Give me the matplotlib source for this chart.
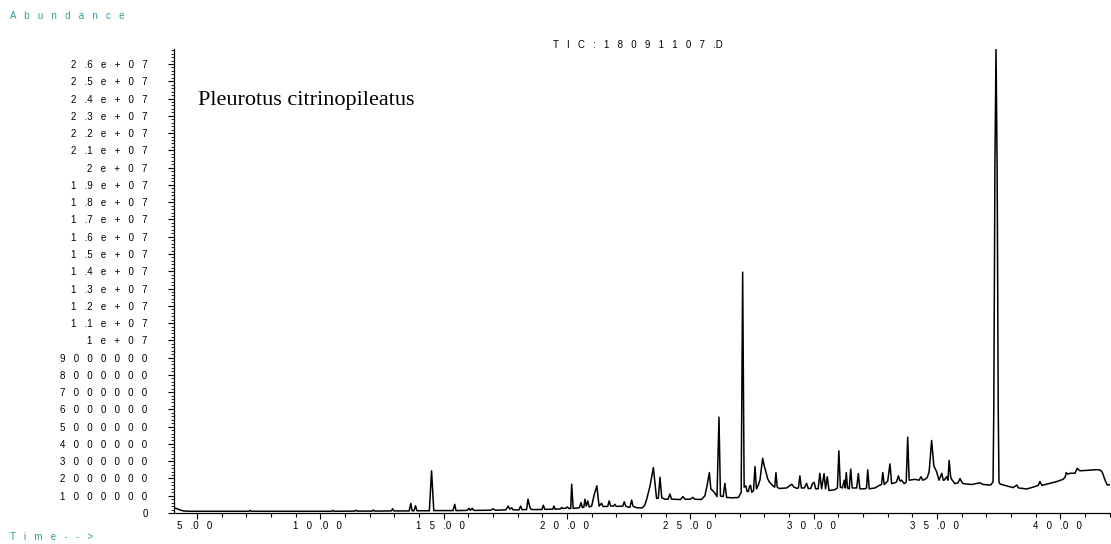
import matplotlib
matplotlib.use("Agg")
import matplotlib.pyplot as plt
from matplotlib.ticker import MultipleLocator, FixedLocator, FixedFormatter

# ---- data (time in min, abundance in millions) ----
time_min = [
    4.07, 4.15, 4.30, 4.45, 4.70, 6.00, 7.10, 7.15, 7.20, 9.50,
    10.45, 10.50, 10.55, 11.40, 11.45, 11.50, 12.10, 12.15, 12.20, 12.88,
    12.93, 12.98, 13.60, 13.67, 13.72, 13.80, 13.86, 13.92, 14.42, 14.51,
    14.60, 15.38, 15.45, 15.50, 15.95, 16.03, 16.08, 16.16, 16.22, 16.90,
    17.01, 17.10, 17.52, 17.62, 17.68, 17.76, 17.82, 18.05, 18.12, 18.18,
    18.36, 18.42, 18.50, 18.56, 18.98, 19.04, 19.10, 19.42, 19.47, 19.52,
    19.74, 19.78, 19.84, 19.96, 20.01, 20.08, 20.15, 20.19, 20.25, 20.50,
    20.57, 20.62, 20.68, 20.73, 20.78, 20.84, 20.90, 21.00, 21.10, 21.21,
    21.30, 21.40, 21.46, 21.65, 21.71, 21.77, 21.88, 21.94, 22.00, 22.26,
    22.32, 22.38, 22.45, 22.55, 22.62, 22.68, 22.85, 23.05, 23.15, 23.23,
    23.36, 23.50, 23.58, 23.63, 23.70, 23.77, 23.84, 23.95, 24.10, 24.17,
    24.24, 24.60, 24.70, 24.78, 25.00, 25.10, 25.18, 25.45, 25.59, 25.68,
    25.77, 25.83, 25.90, 26.00, 26.08, 26.16, 26.22, 26.33, 26.40, 26.47,
    26.70, 26.95, 27.06, 27.12, 27.18, 27.25, 27.30, 27.35, 27.40, 27.44,
    27.49, 27.56, 27.62, 27.68, 27.75, 27.82, 27.93, 28.00, 28.06, 28.13,
    28.20, 28.30, 28.36, 28.42, 28.47, 28.52, 28.60, 28.90, 29.00, 29.11,
    29.20, 29.31, 29.38, 29.44, 29.50, 29.62, 29.71, 29.78, 29.88, 29.95,
    30.02, 30.08, 30.18, 30.25, 30.32, 30.42, 30.48, 30.55, 30.62, 30.86,
    30.96, 31.02, 31.08, 31.16, 31.24, 31.28, 31.32, 31.37, 31.44, 31.50,
    31.56, 31.74, 31.81, 31.87, 32.08, 32.14, 32.19, 32.25, 32.48, 32.60,
    32.69, 32.75, 32.80, 32.86, 33.00, 33.09, 33.16, 33.29, 33.36, 33.43,
    33.50, 33.56, 33.67, 33.75, 33.81, 33.87, 34.10, 34.27, 34.35, 34.42,
    34.51, 34.60, 34.68, 34.78, 34.87, 34.98, 35.08, 35.19, 35.25, 35.29,
    35.39, 35.44, 35.49, 35.55, 35.59, 35.72, 35.85, 35.93, 36.00, 36.06,
    36.40, 36.74, 36.87, 37.17, 37.27, 37.30, 37.345, 37.39, 37.435, 37.48,
    37.51, 37.55, 37.82, 38.09, 38.23, 38.30, 38.43, 38.63, 38.90, 39.10,
    39.17, 39.25, 39.58, 39.85, 40.11, 40.20, 40.23, 40.30, 40.39, 40.59,
    40.68, 40.78, 40.86, 41.20, 41.47, 41.62, 41.70, 41.81, 41.90, 42.05,
]
abundance_m = [
    0.30, 0.27, 0.18, 0.12, 0.10, 0.10, 0.10, 0.15, 0.10, 0.10,
    0.10, 0.15, 0.10, 0.11, 0.16, 0.11, 0.11, 0.17, 0.11, 0.12,
    0.25, 0.12, 0.12, 0.55, 0.13, 0.13, 0.42, 0.13, 0.13, 2.44,
    0.14, 0.14, 0.50, 0.14, 0.15, 0.27, 0.16, 0.27, 0.15, 0.16,
    0.24, 0.16, 0.18, 0.40, 0.22, 0.30, 0.18, 0.18, 0.40, 0.19,
    0.20, 0.80, 0.30, 0.20, 0.20, 0.45, 0.21, 0.22, 0.40, 0.22,
    0.24, 0.32, 0.26, 0.28, 0.35, 0.26, 0.26, 1.67, 0.27, 0.30,
    0.60, 0.32, 0.33, 0.80, 0.40, 0.70, 0.35, 0.40, 1.05, 1.57,
    0.40, 0.56, 0.38, 0.38, 0.70, 0.40, 0.40, 0.50, 0.38, 0.40,
    0.65, 0.40, 0.35, 0.33, 0.75, 0.38, 0.30, 0.30, 0.45, 0.80,
    1.53, 2.63, 1.50, 0.85, 0.85, 2.07, 0.90, 0.80, 0.80, 1.10,
    0.80, 0.78, 0.95, 0.80, 0.80, 0.90, 0.80, 0.78, 1.00, 1.60,
    2.34, 1.40, 1.30, 1.14, 0.95, 5.55, 0.98, 0.95, 1.72, 0.90,
    0.88, 0.90, 1.20, 13.95, 1.50, 1.57, 1.25, 1.24, 1.55, 1.60,
    1.20, 1.30, 2.69, 1.40, 1.60, 1.90, 3.17, 2.70, 2.40, 2.00,
    1.80, 1.65, 1.55, 1.50, 2.34, 1.50, 1.42, 1.45, 1.55, 1.67,
    1.50, 1.43, 1.45, 2.15, 1.45, 1.45, 1.72, 1.42, 1.42, 1.70,
    1.78, 1.40, 1.40, 2.30, 1.40, 2.28, 1.40, 2.10, 1.30, 1.35,
    1.45, 3.60, 1.50, 1.45, 1.90, 1.45, 2.34, 1.45, 1.40, 2.54,
    1.45, 1.45, 2.28, 1.40, 1.40, 1.45, 2.50, 1.40, 1.45, 1.55,
    1.62, 1.65, 2.34, 1.65, 1.85, 2.84, 1.70, 1.75, 1.80, 2.15,
    1.85, 1.90, 1.70, 1.80, 4.39, 1.90, 1.95, 1.90, 2.10, 1.90,
    1.95, 2.05, 2.40, 4.20, 2.73, 2.40, 1.90, 2.30, 1.90, 1.90,
    2.10, 1.90, 3.04, 2.10, 1.95, 1.70, 1.75, 2.00, 1.80, 1.70,
    1.65, 1.75, 1.65, 1.62, 1.80, 6.00, 20.0, 26.9, 20.0, 6.00,
    1.80, 1.68, 1.57, 1.47, 1.62, 1.45, 1.43, 1.39, 1.50, 1.60,
    1.82, 1.60, 1.72, 1.82, 1.95, 2.10, 2.34, 2.25, 2.30, 2.30,
    2.59, 2.45, 2.45, 2.48, 2.51, 2.48, 2.35, 1.90, 1.62, 1.65,
]

x_major = [5, 10, 15, 20, 25, 30, 35, 40]
y_major_m = list(range(0, 27))

title_text = "TIC:18091107.D"
sample_name = "Pleurotus citrinopileatus"
y_axis_title = "Abundance"
x_axis_title = "Time-->"

TEAL = "#2f9c9c"
GAP = "   "
FS = 7


def spaced(s):
    out = ""
    for i, ch in enumerate(s):
        out += ch
        if i < len(s) - 1 and ch != ".":
            out += GAP
    return out


def y_label(v_m):
    if v_m >= 10:
        return spaced(f"{v_m / 10:g}e+07")
    return spaced(str(int(v_m * 1e6)))


plt.rcParams["font.family"] = ["Liberation Sans", "DejaVu Sans"]

fig = plt.figure(figsize=(11.11, 5.44), dpi=100)
ax = fig.add_axes([174 / 1111, 31 / 544, 936 / 1111, 464.5 / 544])

ax.plot(time_min, [a * 1e6 for a in abundance_m], color="black", lw=1.1,
        clip_on=True)

ax.set_xlim(4.07, 42.01)
ax.set_ylim(0, 2.69e7)

for s in ("top", "right"):
    ax.spines[s].set_visible(False)
ax.spines["left"].set_linewidth(0.9)
ax.spines["bottom"].set_linewidth(0.9)

ax.xaxis.set_major_locator(FixedLocator(x_major))
ax.xaxis.set_major_formatter(FixedFormatter([spaced(f"{v:.2f}") + "  " for v in x_major]))
ax.xaxis.set_minor_locator(MultipleLocator(1))

ax.yaxis.set_major_locator(FixedLocator([v * 1e6 for v in y_major_m]))
ax.yaxis.set_major_formatter(FixedFormatter([y_label(v) for v in y_major_m]))
ax.yaxis.set_minor_locator(MultipleLocator(2e5))

ax.tick_params(axis="x", which="major", direction="out", length=4, width=0.8,
               labelsize=FS, pad=1.5)
ax.tick_params(axis="x", which="minor", direction="out", length=3, width=0.8)
ax.tick_params(axis="y", which="major", direction="out", length=4, width=0.8,
               labelsize=FS, pad=15)
ax.tick_params(axis="y", which="minor", direction="out", length=2, width=0.6)

fig.text(638 / 1111, 1 - 45 / 544, spaced(title_text), ha="center", va="center",
         fontsize=FS, color="black")
fig.text(10 / 1111, 1 - 16 / 544, spaced(y_axis_title), ha="left", va="center",
         fontsize=FS, color=TEAL)
fig.text(10 / 1111, 1 - 537 / 544, spaced(x_axis_title), ha="left", va="center",
         fontsize=FS, color=TEAL)
ax.text(198 / 1111, 1 - 100 / 544, sample_name, transform=fig.transFigure,
        ha="left", va="center", fontsize=16, family=["Liberation Serif"],
        color="black")

fig.savefig("out.png", dpi=100)
